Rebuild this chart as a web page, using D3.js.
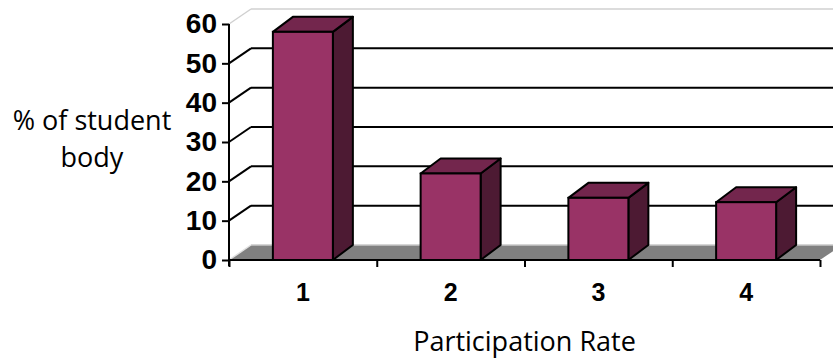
<!DOCTYPE html>
<html>
<head>
<meta charset="utf-8">
<script src="https://cdn.jsdelivr.net/npm/d3@7"></script>
<style>
  html, body { margin: 0; padding: 0; background: #ffffff; }
  svg { display: block; }
</style>
</head>
<body>
<svg id="chart" width="833" height="360"></svg>
<script>
// Share of the student body by participation rate
const categories = ["1", "2", "3", "4"];
const values = [58, 22, 15.8, 14.7];
const yTicks = [0, 10, 20, 30, 40, 50, 60];
const yTitle = ["% of student", "body"];
const xTitle = "Participation Rate";

(function () {
const W = 833, H = 360;
const svg = d3.select("#chart");

// front plane of the 3D box
const plotLeft = 229, plotRight = 820, plotBottom = 260, plotTop = 24;
// depth offsets: back wall and column depth
const wallDx = 22, wallDy = -15;
const barDx = 20, barDy = -15;

const x = d3.scaleBand().domain(categories).range([plotLeft, plotRight])
  .paddingInner(0.594).paddingOuter(0.297);
const y = d3.scaleLinear().domain([0, 60]).range([plotBottom, plotTop]);

const g = svg.append("g");

// floor
const poly = pts => pts.map(p => p.join(",")).join(" ");
g.append("polygon")
  .attr("points", poly([[plotLeft, plotBottom], [plotLeft + wallDx, plotBottom + wallDy],
                        [plotRight + wallDx, plotBottom + wallDy], [plotRight, plotBottom]]))
  .attr("fill", "#808080");
g.append("line")
  .attr("x1", plotLeft + wallDx).attr("y1", plotBottom + wallDy)
  .attr("x2", plotRight + wallDx + 20).attr("y2", plotBottom + wallDy)
  .attr("stroke", "#c8c8c8").attr("stroke-width", 1.5);
g.append("line")
  .attr("x1", plotLeft).attr("y1", plotBottom)
  .attr("x2", plotLeft + wallDx).attr("y2", plotBottom + wallDy)
  .attr("stroke", "#e0e0e0").attr("stroke-width", 1.5);

// back-wall gridlines and their left-wall diagonals
yTicks.filter(v => v > 0).forEach(v => {
  const isTop = v === 60;
  const col = isTop ? "#d0d0d0" : "#000";
  const sw = isTop ? 1.5 : 2;
  g.append("line")
    .attr("x1", plotLeft + wallDx).attr("y1", y(v) + wallDy)
    .attr("x2", W + 20).attr("y2", y(v) + wallDy)
    .attr("stroke", col).attr("stroke-width", sw);
  g.append("line")
    .attr("x1", plotLeft).attr("y1", y(v))
    .attr("x2", plotLeft + wallDx).attr("y2", y(v) + wallDy)
    .attr("stroke", col).attr("stroke-width", sw);
});

// columns
const bars = g.selectAll("g.bar")
  .data(categories.map((c, i) => ({ c, v: values[i] })))
  .enter().append("g").attr("class", "bar");

bars.each(function (d) {
  const sel = d3.select(this);
  const x0 = x(d.c), x1 = x(d.c) + x.bandwidth();
  const yt = y(d.v), yb = y(0);
  // side face
  sel.append("polygon")
    .attr("points", poly([[x1, yb], [x1 + barDx, yb + barDy], [x1 + barDx, yt + barDy], [x1, yt]]))
    .attr("fill", "#4d1a33").attr("stroke", "#000").attr("stroke-width", 2)
    .attr("stroke-linejoin", "round");
  // top face
  sel.append("polygon")
    .attr("points", poly([[x0, yt], [x0 + barDx, yt + barDy], [x1 + barDx, yt + barDy], [x1, yt]]))
    .attr("fill", "#73264d").attr("stroke", "#000").attr("stroke-width", 2)
    .attr("stroke-linejoin", "round");
  // front face
  sel.append("rect")
    .attr("x", x0).attr("y", yt).attr("width", x1 - x0).attr("height", yb - yt)
    .attr("fill", "#993366").attr("stroke", "#000").attr("stroke-width", 2);
});

// value axis
const yAxis = d3.axisLeft(y).tickValues(yTicks).tickSize(7).tickPadding(5).tickFormat(d3.format("d"));
const ya = svg.append("g").attr("transform", `translate(${plotLeft},0)`).call(yAxis);
ya.select(".domain").attr("stroke", "#000").attr("stroke-width", 2)
  .attr("d", `M0,${plotTop}V${plotBottom + 6}`);
ya.selectAll(".tick line").attr("stroke", "#000").attr("stroke-width", 2);
ya.selectAll(".tick text")
  .attr("fill", "#000")
  .style("font-family", "'Liberation Sans', Arial, sans-serif")
  .style("font-weight", "bold").style("font-size", "28px");

// category axis along the front edge of the floor
const xb = d3.scaleLinear().domain([0, 4]).range([plotLeft, plotRight]);
const xAxis = d3.axisBottom(xb).tickValues([0, 1, 2, 3, 4]).tickSize(7).tickFormat("");
const xa = svg.append("g").attr("transform", `translate(0,${plotBottom})`).call(xAxis);
xa.select(".domain").attr("stroke", "#000").attr("stroke-width", 2).attr("d", `M${plotLeft},0H${plotRight}`);
xa.selectAll(".tick line").attr("stroke", "#000").attr("stroke-width", 2);

svg.selectAll("text.cat")
  .data(categories).enter().append("text").attr("class", "cat")
  .attr("x", d => x(d) + x.bandwidth() / 2)
  .attr("y", 301)
  .attr("text-anchor", "middle")
  .style("font-family", "'Liberation Sans', Arial, sans-serif")
  .style("font-weight", "bold").style("font-size", "25px")
  .text(d => d);

// axis titles
const titleFont = "'Open Sans', sans-serif";
svg.selectAll("text.ytitle")
  .data(yTitle).enter().append("text").attr("class", "ytitle")
  .attr("x", 92).attr("y", (d, i) => 130 + i * 37)
  .attr("text-anchor", "middle")
  .style("font-family", titleFont).style("font-size", "27px")
  .text(d => d);

svg.append("text")
  .attr("x", (plotLeft + plotRight) / 2).attr("y", 351)
  .attr("text-anchor", "middle")
  .style("font-family", titleFont).style("font-size", "27px")
  .text(xTitle);
})();
</script>
</body>
</html>
